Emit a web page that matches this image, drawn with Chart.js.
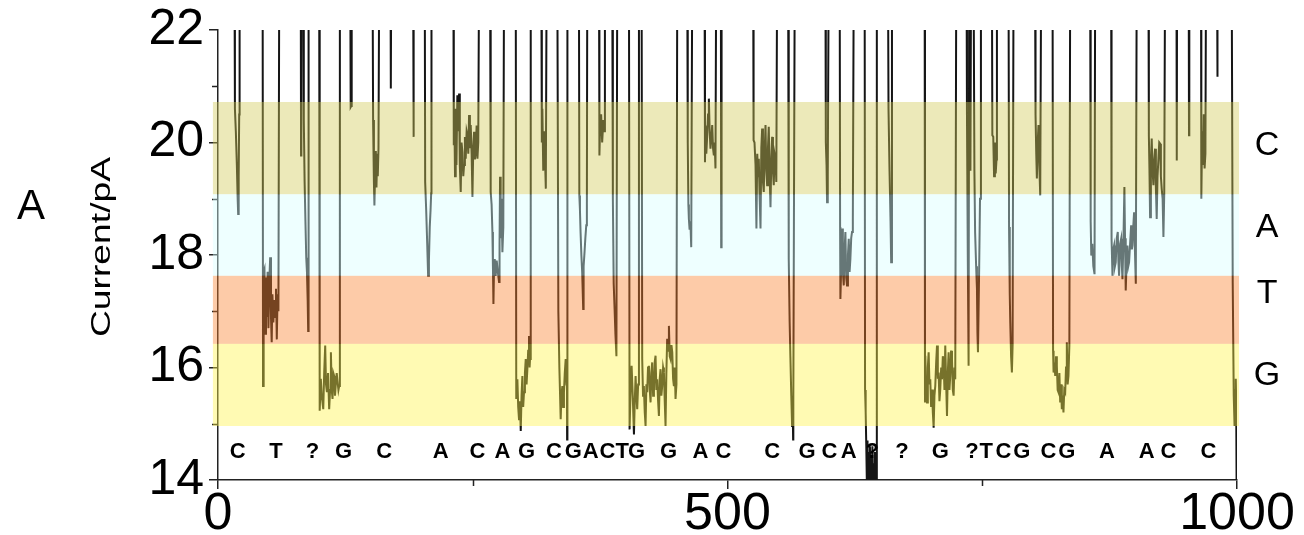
<!DOCTYPE html>
<html>
<head>
<meta charset="utf-8">
<script src="https://cdn.jsdelivr.net/npm/chart.js@4.4.1/dist/chart.umd.min.js"></script>
<style>
  html, body { margin: 0; padding: 0; background: #fff; }
  canvas { display: block; }
</style>
</head>
<body>
<canvas id="traceChart" width="1304" height="535"></canvas>
<script>
// ── DATA ──────────────────────────────────────────────────────────────────────

// current trace, [time, current/pA]; 23 = open pore level (off the top)
const trace = [
  [0, 23],
  [16.2, 23], [16.6, 20.6], [17.5, 20.2], [18.5, 19.6], [19.3, 19.0], [19.8, 18.73], [20.3, 19.4], [20.8, 20.5], [21.2, 23],
  [43.8, 23], [44.2, 15.67], [44.8, 17.7], [45.6, 17.75], [46.4, 16.6], [47.1, 17.6], [47.8, 16.9], [48.7, 17.7], [49.5, 16.7],
  [50.3, 17.5], [51.2, 17.96], [52, 16.9], [52.7, 16.45], [53.4, 17.3], [54.3, 16.8], [55.2, 17.2], [56, 16.9], [56.9, 17.4],
  [57.7, 16.5], [58.5, 17.3], [59.3, 17.0], [60.1, 23],
  [81.2, 23], [81.5, 19.77], [81.8, 23], [83.6, 23], [84.2, 20.4], [85, 19.3], [85.8, 18.6], [86.6, 17.95], [87.3, 17.7],
  [88, 17.2], [88.5, 16.65], [88.9, 23],
  [99.3, 23], [99.8, 15.23], [100.9, 15.8], [101.8, 15.5], [103.3, 15.26], [104.2, 15.9], [105.2, 16.39], [106, 15.7],
  [106.9, 15.56], [108, 15.9], [109.1, 15.26], [110, 15.6], [110.8, 16.27], [111.6, 15.6], [112.4, 15.44], [113.2, 15.9],
  [114, 15.85], [114.8, 15.5], [115.7, 15.73], [116.5, 15.9], [117.3, 15.75], [118.2, 15.6], [118.9, 15.67], [119.6, 23],
  [129.8, 23], [130.2, 20.63], [130.8, 20.65], [131.2, 23],
  [151.7, 23], [152.2, 20.4], [153, 19.3], [153.5, 18.88], [154.2, 19.5], [154.9, 19.85], [155.5, 19.2], [156.2, 19.8],
  [156.8, 19.4], [157.5, 19.9], [158.2, 23],
  [169.3, 23], [169.6, 20.96], [170, 23],
  [191.5, 23], [191.8, 20.1], [192.2, 23],
  [202.9, 23], [203.3, 19.3], [204.3, 18.8], [205.3, 18.2], [206.2, 17.63], [207, 17.9], [207.8, 18.5], [208.6, 18.8],
  [209.2, 19.1], [209.5, 23],
  [231, 23], [231.4, 19.95], [232, 20.4], [232.6, 19.4], [233.3, 20.6], [234, 19.6], [234.9, 20.84], [235.7, 20.2],
  [236.6, 20.87], [237.3, 19.6], [238.2, 19.12], [239, 20.0], [239.9, 19.83], [240.7, 19.4], [241.5, 19.6], [242.3, 20.1],
  [243.1, 19.71], [244, 20.2], [244.8, 20.13], [245.6, 19.8], [246.4, 20.49], [247.2, 19.9], [248, 20.31], [248.9, 19.8],
  [249.7, 19.03], [250.5, 19.9], [251.3, 20.19], [252.1, 19.7], [252.9, 19.83], [253.8, 20.3], [254.6, 19.71], [255.4, 20.0],
  [256.2, 23],
  [267, 23], [267.6, 19.12], [268.5, 18.9], [269.3, 18.41], [269.8, 17.8], [270.3, 17.13], [271, 17.9], [271.6, 17.93],
  [272.5, 17.63], [273.5, 17.9], [274.6, 17.7], [275.8, 17.52], [276.3, 18.2], [276.8, 19.39], [277.4, 18.3], [278.1, 19.0],
  [279.1, 18.05], [280, 18.5], [280.7, 23],
  [292.2, 23], [292.7, 15.44], [293.8, 15.79], [294.6, 15.3], [295.4, 15.08], [296.3, 15.4], [297.1, 14.87], [297.9, 15.5],
  [298.7, 15.85], [299.5, 15.3], [300.3, 15.56], [301.2, 15.9], [302, 16.15], [302.8, 15.7], [303.6, 15.97], [304.4, 16.3],
  [305.2, 16.56], [305.8, 16.0], [306.2, 16.15], [306.9, 23],
  [317.3, 23], [317.8, 20.0], [318.3, 20.6], [319.2, 19.5], [320, 20.2], [320.8, 19.8], [321.7, 19.18], [322.5, 23],
  [333, 23], [334, 17], [335, 16.0], [336.3, 15.08], [337, 15.5], [337.9, 15.67], [338.7, 15.3], [339.5, 15.56], [340.3, 15.9],
  [341.2, 16.15], [342, 15.7], [342.4, 16.0], [342.6, 14.72], [342.9, 23],
  [354.2, 23], [354.6, 19.06], [355.2, 18.8], [355.8, 18.41], [356.6, 18.0], [357.4, 17.69], [358.4, 17.04], [358.8, 17.8],
  [359.7, 18.05], [360.5, 18.3], [361.4, 18.53], [362, 18.9], [362.4, 23],
  [373.9, 23], [374.3, 19.77], [375, 20.3], [376, 20.5], [377, 20.0], [378.2, 20.4], [379, 20.2], [379.7, 23],
  [386.9, 23], [387.5, 19.0], [388.3, 17.5], [389.2, 17.04], [390, 16.6], [391, 16.2], [391.8, 23],
  [403.3, 23], [403.9, 14.9], [404.9, 15.6], [405.9, 16.03], [407, 15.5], [408.2, 14.81], [409, 15.4], [409.8, 15.85],
  [410.6, 15.5], [411.4, 15.26], [412.3, 15.7], [413.1, 23],
  [415.7, 23], [416.3, 16.15], [417.1, 15.5], [417.9, 15.67], [418.8, 15.2], [419.6, 14.96], [420.4, 15.7], [421.2, 15.56],
  [422, 16.0], [422.9, 16.03], [423.7, 15.6], [424.5, 15.38], [425.3, 15.9], [426.1, 16.09], [427, 15.5], [427.8, 15.56],
  [428.6, 16.1], [429.4, 16.21], [430.2, 15.6], [431, 15.79], [431.9, 15.4], [432.7, 15.14], [433.5, 15.8], [434.3, 15.97],
  [435.1, 15.5], [435.9, 15.67], [436.8, 16.0], [437.6, 15.91], [438.4, 15.4], [439.2, 14.96], [440, 15.9], [440.8, 16.51],
  [441.7, 16.3], [442.5, 16.74], [443.3, 16.2], [444.1, 16.15], [445, 16.4], [445.8, 16.27], [446.6, 15.8], [447.4, 15.67],
  [448.2, 16.0], [449, 15.44], [449.9, 15.7], [450.7, 23],
  [460.5, 23], [461, 20.0], [461.6, 18.9], [462.1, 18.64], [462.8, 18.45], [463.6, 18.6], [464.4, 18.14], [465.4, 23],
  [477.5, 23], [477.9, 19.65], [478.4, 20.3], [479.2, 19.8], [480.1, 20.13], [480.9, 20.5], [481.7, 20.78], [482.5, 20.2],
  [483.3, 19.89], [484.2, 20.1], [485, 20.31], [485.8, 19.9], [486.6, 19.77], [487.4, 20.0], [488.2, 19.54], [488.9, 23],
  [493.5, 23], [493.8, 18.14], [494.2, 23],
  [525.2, 23], [525.6, 20.04], [526.5, 20.0], [527.5, 19.6], [528.4, 18.47], [529.2, 19.8], [530, 19.4], [530.7, 19.71],
  [531.6, 19.0], [532.4, 18.47], [533.2, 19.9], [534, 20.25], [534.8, 19.3], [535.6, 19.12], [536.4, 19.8], [537.3, 20.31],
  [538.1, 19.5], [538.9, 19.24], [539.7, 19.9], [540.5, 20.28], [541.4, 19.4], [542.2, 18.85], [543, 19.7], [543.8, 20.1],
  [544.6, 19.5], [545.4, 19.24], [546.2, 19.8], [547.1, 19.71], [547.9, 19.3], [548.7, 23],
  [559.5, 23], [560.1, 17.93], [561, 16.8], [561.7, 16.2], [562.6, 15.5], [563.4, 14.96], [564.2, 15.0], [564.4, 14.72],
  [564.6, 15.4], [566, 23],
  [596.1, 23], [596.5, 20.0], [597.2, 19.6], [597.7, 18.94], [598.4, 19.4], [599.3, 23],
  [610.1, 23], [610.5, 18.5], [610.8, 17.22], [611.6, 17.8], [612.4, 18.47], [613.2, 17.7], [614.1, 17.46], [614.9, 18.1],
  [615.7, 18.41], [616.5, 17.6], [617.3, 17.46], [618.2, 18.0], [619, 18.29], [619.8, 17.7], [620.6, 17.93], [621.4, 18.3],
  [622.2, 18.41], [623, 18.6], [623.9, 23],
  [634.6, 23], [635, 15.6], [635.6, 15.2], [636.2, 14.6], [636.8, 13.9], [637.4, 14.7], [638, 13.8], [638.6, 14.5],
  [639.2, 13.9], [639.8, 14.6], [640.4, 13.8], [641, 14.4], [641.6, 13.9], [642.2, 14.6], [642.8, 13.8], [643.4, 14.3],
  [644, 13.9], [644.6, 14.5], [645.2, 13.8], [645.8, 14.2], [646.4, 13.9], [646.7, 23],
  [657.5, 23], [658, 20.6], [659, 19.5], [660, 18.6], [660.6, 17.87], [661.4, 23],
  [693.5, 23], [693.8, 15.38], [694.1, 16.21], [695, 15.6], [695.8, 15.38], [696.6, 16.0], [697.4, 16.27], [698.2, 15.7],
  [699, 15.79], [699.8, 15.3], [700.7, 15.61], [701.5, 15.2], [702.3, 14.93], [703.1, 15.5], [703.9, 15.67], [704.8, 16.1],
  [705.6, 16.39], [706.4, 15.8], [707.2, 15.91], [708, 15.4], [708.8, 15.61], [709.7, 16.0], [710.5, 15.79], [711.3, 16.2],
  [712.1, 16.09], [712.9, 15.6], [713.7, 16.39], [714.6, 15.7], [715.4, 15.14], [716.2, 15.9], [717, 16.27], [717.8, 15.6],
  [718.6, 15.85], [719.4, 16.3], [720.3, 16.15], [721.1, 15.6], [721.9, 15.5], [722.7, 16.0], [723.5, 15.79], [724.5, 23],
  [734.6, 23], [735, 20.5], [735.8, 18.0], [736.6, 16.03], [737.2, 23], [738, 23], [738.4, 19.5], [739, 23],
  [741.5, 23], [742.3, 19.5], [743, 18.4], [744, 17.8], [744.8, 17.4], [745.3, 16.6], [745.8, 16.27], [746.3, 16.9],
  [747, 17.8], [747.8, 19.0], [748.7, 23],
  [759.5, 23], [759.9, 20.13], [760.8, 20.1], [761.6, 19.4], [762.4, 20.0], [763.2, 19.45], [764, 19.7], [764.4, 23],
  [775.8, 23], [776.3, 18.5], [777, 17.3], [777.5, 16.8], [778.3, 16.2], [779.1, 15.91], [779.8, 16.4], [780.7, 23],
  [801.8, 23], [802.3, 20.49], [803, 19.8], [803.6, 19.36], [804.4, 20.0], [805.2, 20.31], [806, 19.6], [806.9, 19.06], [807.8, 23],
  [819, 23], [819.5, 16.3], [820, 15.91], [820.8, 16.09], [821.6, 15.85], [822.4, 16.2], [823.2, 16.03], [824, 15.6],
  [824.8, 15.56], [825.7, 15.9], [826.5, 15.38], [827.3, 15.7], [828.1, 15.26], [828.9, 15.5], [829.7, 15.2], [830.5, 15.6],
  [831.4, 15.56], [832.2, 16.0], [833, 16.45], [833.8, 15.7], [834.6, 15.85], [835.5, 16.4], [836.3, 23],
  [855.9, 23], [856.4, 18.6], [857, 17.99], [858, 18.2], [859, 17.8], [860.2, 17.66], [860.8, 23],
  [876.5, 23], [876.9, 18.29], [877.8, 17.63], [878.6, 18.1], [879.4, 18.17], [880.2, 17.8], [881, 17.87], [882, 18.3],
  [883, 18.41], [883.6, 17.9], [884.3, 17.63], [885.3, 18.2], [886.3, 18.29], [887, 17.8], [887.6, 17.57], [888.5, 18.2],
  [889.5, 19.21], [890.1, 18.3], [890.8, 17.37], [891.7, 17.9], [892.5, 18.17], [893.3, 17.8], [894.1, 17.87], [895.1, 18.2],
  [896.1, 18.53], [896.8, 18.1], [897.4, 18.17], [898.2, 18.5], [899, 18.76], [899.8, 18.1], [900.7, 17.49], [901.6, 23],
  [913.1, 23], [913.5, 20.13], [914.1, 19.5], [914.7, 18.67], [915.5, 19.6], [916.3, 20.07], [917.1, 19.5], [918, 19.24],
  [918.8, 19.7], [919.6, 19.89], [920.4, 19.2], [921.2, 18.64], [922, 19.4], [922.9, 19.71], [923.7, 20.0], [924.5, 19.98],
  [925.3, 19.4], [926.1, 19.18], [927, 19.0], [927.8, 18.32], [928.6, 19.1], [929.4, 23],
  [940.6, 23], [940.9, 19.68], [941.2, 23],
  [952.6, 23], [952.9, 20.13], [953.2, 23],
  [964.7, 23], [965, 19.0], [965.8, 20.2], [966.6, 19.6], [967.4, 20.5], [968.2, 19.54], [969, 19.8], [969.6, 23],
  [980.4, 23], [980.7, 21.17], [981, 23],
  [994.8, 23], [995.8, 17.5], [996.8, 15.5], [997.6, 14.96], [998.2, 15.6], [998.8, 15.8], [999.2, 15.4], [999.6, 13.9], [1000, 15.5]
];

// base level bands
const bandNames = ["C", "A", "T", "G"];
const bandTop = [20.72, 19.08, 17.63, 16.42];
const bandBottom = [19.08, 17.63, 16.42, 14.96];
const bandLabelLevel = [19.95, 18.48, 17.31, 15.85];
const bandStartT = -5;
const bandEndT = 1002;

// called bases under the trace
const seqLetters = ["C", "T", "?", "G", "C", "A", "C", "A", "G", "C", "G", "A", "C", "T", "G", "G", "A", "C",
  "C", "G", "C", "A", "?", "?", "G", "?", "T", "C", "G", "C", "G", "A", "A", "C", "C"];
const seqPos = [19.3, 56.9, 92.8, 123.2, 163.0, 218.6, 254.6, 279.1, 302.9, 329.7, 348.7, 365.7, 382.1, 396.8,
  410.8, 442.2, 473.5, 496.1, 543.8, 578.1, 600, 618.9, 641.9, 671.3, 708.8, 739.9, 753.9, 770.9, 788.9,
  815, 833, 872.3, 911.5, 932.6, 971.9];
const seqLevel = 14.5;

const xMajorTicks = [0, 500, 1000];
const xMinorTicks = [250, 750];
const yMinorTicks = [15, 17, 19, 21];

// ── STYLE ─────────────────────────────────────────────────────────────────────

const FONT = "Arial, 'Liberation Sans', Helvetica, sans-serif";
const bandColors = [
  "rgba(210, 202, 88, 0.42)",
  "rgba(214, 255, 255, 0.42)",
  "rgba(250, 131, 48, 0.42)",
  "rgba(255, 243, 74, 0.42)"
];

const overlay = {
  id: "overlay",
  afterDatasetsDraw(chart) {
    const { ctx, scales: { x, y } } = chart;
    ctx.save();
    ctx.strokeStyle = "#222";
    ctx.lineWidth = 1.5;
    ctx.beginPath();
    yMinorTicks.forEach(v => {
      const py = Math.round(y.getPixelForValue(v)) + 0.5;
      ctx.moveTo(x.left - 6, py);
      ctx.lineTo(x.left, py);
    });
    xMinorTicks.forEach(v => {
      const px = Math.round(x.getPixelForValue(v)) + 0.5;
      ctx.moveTo(px, y.bottom);
      ctx.lineTo(px, y.bottom + 6);
    });
    ctx.stroke();
    ctx.restore();
  },
  afterDraw(chart) {
    const { ctx, scales: { x, y } } = chart;
    ctx.save();

    // translucent bands over the trace
    const x0 = x.getPixelForValue(bandStartT);
    const x1 = x.getPixelForValue(bandEndT);
    bandNames.forEach((name, i) => {
      const top = y.getPixelForValue(bandTop[i]);
      const bottom = y.getPixelForValue(bandBottom[i]);
      ctx.fillStyle = bandColors[i];
      ctx.fillRect(x0, top, x1 - x0, bottom - top);
    });

    // band names on the right
    ctx.fillStyle = "#000";
    ctx.font = `34px ${FONT}`;
    ctx.textAlign = "center";
    ctx.textBaseline = "middle";
    bandNames.forEach((name, i) => {
      ctx.fillText(name, x1 + 28, y.getPixelForValue(bandLabelLevel[i]));
    });

    // sequence letters
    ctx.font = `bold 22px ${FONT}`;
    seqLetters.forEach((ch, i) => {
      ctx.fillText(ch, x.getPixelForValue(seqPos[i]), y.getPixelForValue(seqLevel));
    });

    // panel letter and axis title
    ctx.font = `42px ${FONT}`;
    ctx.fillText("A", 31, 207);
    ctx.translate(103, 247);
    ctx.rotate(-Math.PI / 2);
    ctx.scale(1.38, 1);
    ctx.font = `27px ${FONT}`;
    ctx.fillText("Current/pA", 0, 0);
    ctx.restore();
  }
};

new Chart(document.getElementById("traceChart"), {
  type: "line",
  data: {
    datasets: [{
      data: trace.map(p => ({ x: p[0], y: p[1] })),
      borderColor: "#151515",
      borderWidth: 2,
      pointRadius: 0,
      tension: 0,
      fill: false,
      clip: 0
    }]
  },
  options: {
    responsive: false,
    animation: false,
    devicePixelRatio: 1,
    layout: { padding: { left: 0, right: 67, top: 30, bottom: 0 } },
    plugins: { legend: { display: false }, tooltip: { enabled: false } },
    scales: {
      x: {
        type: "linear",
        min: 0,
        max: 1000,
        afterBuildTicks: scale => { scale.ticks = xMajorTicks.map(v => ({ value: v })); },
        afterFit: scale => { scale.height = 55; },
        ticks: {
          color: "#000",
          font: { size: 52, family: FONT, lineHeight: 1 },
          padding: 0,
          maxRotation: 0,
          callback: v => String(v)
        },
        grid: { drawOnChartArea: false, tickLength: 9, color: "#222", lineWidth: 1.5 },
        border: { color: "#222", width: 1.5 }
      },
      y: {
        min: 14,
        max: 22,
        afterFit: scale => { scale.width = 218; },
        ticks: { stepSize: 2, color: "#000", font: { size: 50, family: FONT, lineHeight: 1 }, padding: 5 },
        grid: { drawOnChartArea: false, tickLength: 9, color: "#222", lineWidth: 1.5 },
        border: { color: "#222", width: 1.5 }
      }
    }
  },
  plugins: [overlay]
});
</script>
</body>
</html>
